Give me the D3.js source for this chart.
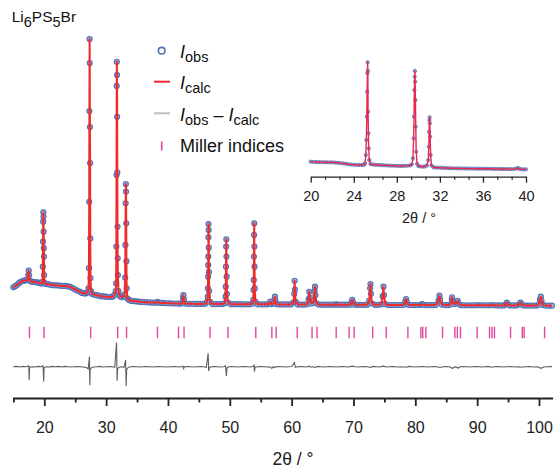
<!DOCTYPE html>
<html><head><meta charset="utf-8">
<script src="https://cdn.jsdelivr.net/npm/d3@7"></script>
<style>body{margin:0;background:#fff}svg{display:block;font-family:"Liberation Sans",Arial,sans-serif}</style>
</head><body><svg id="c" width="555" height="470"></svg>
<script>
// ---------- DATA ----------
const mainObs = [[15.0,84],[15.3,88],[15.6,93],[15.9,99],[16.2,104],[16.5,107],[16.8,109],[17.1,110],[17.3,113],[17.42,130],[17.48,145],[17.55,128],[17.65,108],[17.9,105],[18.2,104],[18.5,103],[18.8,102],[19.1,101],[19.4,99],[19.6,98],[19.72,104],[19.76,160],[19.79,252],[19.82,326],[19.85,360],[19.87,344],[19.89,289],[19.92,228],[19.95,197],[19.98,129],[20.05,100],[20.3,96],[20.6,95],[20.9,94],[21.3,92],[21.7,91],[22.1,91],[22.5,90],[22.9,89],[23.3,89],[23.7,88],[24.1,86],[24.5,82],[24.9,77],[25.3,72],[25.7,68],[26.1,63],[26.5,61],[26.8,62],[27.0,66],[27.15,80],[27.22,155],[27.26,399],[27.29,734],[27.33,1000],[27.35,911],[27.38,675],[27.41,542],[27.44,264],[27.47,118],[27.55,70],[27.7,60],[28.0,57],[28.4,55],[28.8,53],[29.2,51],[29.6,50],[30.0,49],[30.4,48],[30.8,48],[31.1,50],[31.35,56],[31.55,70],[31.62,98],[31.65,234],[31.68,498],[31.71,827],[31.73,916],[31.76,867],[31.78,713],[31.81,507],[31.84,307],[31.87,191],[31.9,129],[32.0,70],[32.2,52],[32.5,47],[32.8,50],[33.0,58],[33.08,120],[33.12,240],[33.16,394],[33.19,465],[33.22,437],[33.25,320],[33.28,180],[33.32,80],[33.45,42],[33.7,37],[34.0,34],[34.4,33],[34.8,32],[35.2,31],[35.6,30],[36.0,29.5],[36.5,29],[37.0,28],[37.5,27.5],[38.0,27],[38.3,30],[38.6,27],[39.0,26],[39.5,25.5],[40.0,25],[40.5,24.5],[41.0,24],[41.5,24],[42.0,23.5],[42.35,26],[42.45,45],[42.5,55],[42.57,40],[42.7,25],[43.1,23],[43.6,23],[44.1,23],[44.6,22.5],[45.1,22.5],[45.6,22.5],[46.0,23],[46.3,30],[46.42,49],[46.45,80],[46.48,123],[46.5,166],[46.52,197],[46.54,268],[46.56,317],[46.58,295],[46.6,230],[46.63,140],[46.67,70],[46.8,30],[47.2,22],[47.7,22],[48.2,22],[48.7,22],[49.1,24],[49.3,49],[49.35,86],[49.38,160],[49.41,234],[49.44,261],[49.46,197],[49.49,123],[49.53,60],[49.7,27],[50.2,21.5],[50.7,21.5],[51.2,21.5],[51.7,21.5],[52.2,21],[52.7,21],[53.2,21],[53.6,23],[53.8,37],[53.84,74],[53.87,111],[53.9,197],[53.92,277],[53.95,320],[53.97,234],[54.0,160],[54.04,80],[54.15,30],[54.5,21],[55.0,21],[55.5,21],[56.0,21],[56.4,23],[56.55,31],[56.7,22],[57.1,24],[57.25,40],[57.3,49],[57.36,36],[57.5,22],[57.9,20.5],[58.4,20.5],[58.9,20.5],[59.4,20.5],[59.9,21],[60.3,28],[60.42,60],[60.48,108],[60.54,75],[60.65,30],[61.0,20.5],[61.5,20],[62.0,20],[62.5,21],[62.75,40],[62.85,67],[62.93,45],[63.2,24],[63.6,35],[63.72,70],[63.78,86],[63.85,55],[64.0,25],[64.4,20],[64.9,19.5],[65.4,19.5],[65.9,19.5],[66.4,19.5],[66.9,20],[67.2,21],[67.5,19.5],[68.0,19.5],[68.5,19.5],[69.0,19.5],[69.5,20],[69.7,30],[69.8,37],[69.9,28],[70.2,19.5],[70.7,19],[71.2,19],[71.7,19],[72.2,19.5],[72.55,35],[72.7,80],[72.75,96],[72.82,60],[73.0,24],[73.5,19],[74.0,19],[74.5,21],[74.72,50],[74.85,86],[74.93,55],[75.15,22],[75.6,18.5],[76.1,18.5],[76.6,18.5],[77.1,18.5],[77.6,18.5],[78.1,19],[78.4,32],[78.5,40.6],[78.6,30],[78.9,19],[79.4,18.5],[79.9,18],[80.4,18],[80.9,19],[81.1,22],[81.3,19],[81.8,18],[82.3,18],[82.8,18],[83.3,18.5],[83.75,35],[83.9,53],[84.0,38],[84.3,20],[84.8,18],[85.3,18],[85.7,21],[85.9,40],[85.95,47],[86.05,32],[86.4,22],[86.75,28],[86.85,34],[86.95,25],[87.3,18],[87.8,17.5],[88.3,17.5],[88.8,17.5],[89.3,17.5],[89.8,17.5],[90.3,18],[90.8,17.5],[91.3,17.5],[91.8,17.5],[92.3,18],[92.8,17.5],[93.3,17],[93.8,17],[94.3,17],[94.65,22],[94.8,27],[94.95,21],[95.3,17],[95.8,17],[96.3,17],[96.8,21],[97.0,27],[97.15,21],[97.5,17],[98.0,16.5],[98.5,16.5],[99.0,16.5],[99.5,16.5],[99.9,18],[100.15,38],[100.3,49],[100.4,35],[100.7,18],[101.1,16.5],[101.6,16],[102.1,16]];

const mainDiff = [[15.0,0],[15.5,1],[16.0,-1],[16.5,1],[17.0,0],[17.4,2],[17.5,3],[17.55,-50],[17.62,-2],[18.0,0],[18.5,-1],[19.0,1],[19.5,0],[19.8,4],[19.9,-55],[19.97,-3],[20.3,0],[20.8,-1],[21.3,1],[21.8,0],[22.3,1],[22.8,-1],[23.3,1],[23.8,0],[24.3,-1],[24.8,0],[25.3,1],[25.8,0],[26.3,-1],[26.8,-3],[27.1,-8],[27.3,37],[27.36,-68],[27.42,-12],[27.6,-4],[28.0,-1],[28.5,0],[29.0,1],[29.5,-1],[30.0,0],[30.5,1],[31.0,0],[31.4,-2],[31.68,89],[31.78,-52],[31.85,-8],[32.1,-2],[32.5,0],[32.9,-2],[33.15,25],[33.24,-71],[33.32,-10],[33.6,-2],[34.0,0],[34.5,1],[35.0,0],[35.5,-1],[36.0,0],[36.5,1],[37.0,0],[37.5,-1],[38.0,0],[38.5,1],[39.0,0],[39.5,0],[40.0,-1],[40.5,0],[41.0,1],[41.5,0],[42.0,-1],[42.45,2],[42.52,-7],[42.7,0],[43.2,1],[43.7,0],[44.2,-1],[44.7,0],[45.2,1],[45.7,0],[46.2,-2],[46.5,49],[46.58,-16],[46.7,-3],[47.0,0],[47.5,1],[48.0,0],[48.5,-1],[49.0,0],[49.3,3],[49.45,-34],[49.55,-4],[49.8,0],[50.3,1],[50.8,0],[51.3,-1],[51.8,0],[52.3,1],[52.8,0],[53.3,-1],[53.8,2],[53.92,6],[53.98,-18],[54.1,-2],[54.5,0],[55.0,1],[55.5,0],[56.0,-1],[56.5,0],[56.8,-6],[57.0,0],[57.3,-3],[57.5,0],[58.0,1],[58.5,0],[59.0,-1],[59.5,0],[60.0,1],[60.45,15],[60.6,-2],[61.0,0],[61.5,1],[62.0,0],[62.5,-1],[62.85,3],[63.0,-2],[63.5,0],[63.8,-3],[64.2,1],[64.7,0],[65.2,-1],[65.7,0],[66.2,1],[66.7,0],[67.2,-1],[67.7,0],[68.2,1],[68.7,0],[69.2,-1],[69.8,2],[70.3,0],[70.8,-1],[71.3,0],[71.8,1],[72.3,0],[72.75,-3],[73.2,1],[73.7,0],[74.2,-1],[74.8,2],[75.3,-1],[75.8,0],[76.3,1],[76.8,0],[77.3,-1],[77.8,0],[78.5,-2],[79.0,1],[79.5,0],[80.0,-1],[80.5,0],[81.0,1],[81.5,0],[82.0,-1],[82.5,0],[83.0,1],[83.5,0],[84.0,-3],[84.5,0],[85.0,1],[85.5,0],[86.0,-6],[86.5,0],[86.9,-5],[87.3,0],[87.8,1],[88.3,0],[88.8,-1],[89.3,0],[89.8,1],[90.3,0],[90.8,-1],[91.3,0],[91.8,1],[92.3,-2],[92.8,0],[93.3,1],[93.8,0],[94.3,-1],[94.8,0],[95.3,1],[95.8,0],[96.3,-1],[96.8,0],[97.3,-2],[97.8,0],[98.3,1],[98.8,0],[99.3,-1],[99.8,0],[100.3,-6],[100.8,-1],[101.3,0],[101.8,1],[102.1,0]];

const millerPos = [17.6,19.95,27.5,31.87,33.3,38.3,41.7,42.6,46.8,49.7,54.2,56.8,57.5,60.9,63.3,64.1,67.2,69.3,70.1,73.1,75.3,78.8,80.9,81.2,81.7,84.4,86.4,86.8,87.3,90.0,92.0,92.4,92.8,95.4,97.3,97.6,100.9];

const insetObs = [[20.0,94],[20.25,92],[20.5,91],[20.75,90],[21.0,90],[21.25,89],[21.5,89],[21.75,88],[22.0,88],[22.25,86],[22.5,84],[22.75,81],[23.0,79],[23.25,75],[23.5,71],[23.75,68],[24.0,66],[24.25,65],[24.5,64],[24.75,64],[24.95,66],[25.05,80],[25.12,155],[25.17,292],[25.21,504],[25.24,732],[25.27,900],[25.29,1000],[25.31,921],[25.33,550],[25.36,353],[25.39,216],[25.44,110],[25.55,72],[25.75,68],[26.0,66],[26.25,64],[26.5,63],[26.75,62],[27.0,60],[27.25,59],[27.5,58],[27.75,57],[28.0,56],[28.25,55],[28.5,55],[28.75,56],[29.0,57],[29.25,60],[29.4,70],[29.5,125],[29.56,307],[29.6,504],[29.63,748],[29.66,869],[29.68,921],[29.7,823],[29.73,656],[29.76,413],[29.8,185],[29.88,75],[30.0,55],[30.2,50],[30.4,49],[30.6,50],[30.8,60],[30.92,109],[30.97,231],[31.0,367],[31.03,474],[31.05,499],[31.07,444],[31.1,322],[31.14,155],[31.22,60],[31.4,44],[31.6,40],[31.85,39],[32.1,38],[32.35,37],[32.6,36],[32.85,35],[33.1,34],[33.35,34],[33.6,33],[33.85,33],[34.1,32],[34.35,32],[34.6,31],[34.85,31],[35.1,31],[35.35,30],[35.6,30],[35.85,30],[36.1,30],[36.35,29],[36.6,29],[36.85,29],[37.1,28],[37.35,28],[37.6,28],[37.85,27],[38.1,27],[38.35,27],[38.6,26],[38.85,27],[39.1,31],[39.25,36],[39.4,28],[39.6,25],[39.8,24],[40.0,24]];

const mainTickValues = [20,30,40,50,60,70,80,90,100];
const mainMinorTicks = [15,25,35,45,55,65,75,85,95];
const insetTickValues = [20,24,28,32,36,40];
const insetMinorTicks = [21.333,22.667,25.333,26.667,29.333,30.667,33.333,34.667,37.333,38.667];

// ---------- DRAWING ----------
const svg = d3.select("#c");
const RED = "#ef2b2b", BLUE = "#5272b6", PINK = "#e2469c";

const x = d3.scaleLinear().domain([14.9,102.2]).range([12.76,552.6]);
const y = d3.scaleLinear().domain([0,1000]).range([310,39]);
const yd = d3.scaleLinear().domain([0,100]).range([366.7,339.6]);

// observed circles
svg.append("g").selectAll("circle").data(mainObs).join("circle")
  .attr("cx", d=>x(d[0])).attr("cy", d=>y(d[1])).attr("r",2.5)
  .attr("fill","#9fb2dc").attr("stroke",BLUE).attr("stroke-width",1.2);
// calculated line
svg.append("path").datum(mainObs)
  .attr("d", d3.line().x(d=>x(d[0])).y(d=>y(d[1])))
  .attr("fill","none").attr("stroke",RED).attr("stroke-width",2).attr("stroke-linejoin","round");
// difference
svg.append("path").datum(mainDiff)
  .attr("d", d3.line().x(d=>x(d[0])).y(d=>yd(d[1])))
  .attr("fill","none").attr("stroke","#5e5e5e").attr("stroke-width",1.1);
// Miller ticks
svg.append("g").selectAll("line").data(millerPos).join("line")
  .attr("x1",d=>x(d)).attr("x2",d=>x(d)).attr("y1",326.7).attr("y2",338.3)
  .attr("stroke",PINK).attr("stroke-width",1.4);

// main axis
const gx = svg.append("g").attr("transform","translate(0,398)")
  .call(d3.axisBottom(x).tickValues(mainTickValues).tickSize(8).tickSizeOuter(0));
gx.select(".domain").attr("stroke","#222").attr("stroke-width",2);
gx.selectAll(".tick line").attr("stroke","#222").attr("stroke-width",1.8);
gx.selectAll(".tick text").attr("font-family","Liberation Sans, Arial, sans-serif")
  .attr("font-size",16).attr("fill","#222").attr("y",23.6);
const gxm = svg.append("g").attr("transform","translate(0,398)")
  .call(d3.axisBottom(x).tickValues(mainMinorTicks).tickSize(4.5).tickSizeOuter(0).tickFormat(""));
gxm.select(".domain").remove();
gxm.selectAll(".tick line").attr("stroke","#222").attr("stroke-width",1.8);
svg.append("text").attr("x",293).attr("y",465).attr("text-anchor","middle")
  .attr("font-size",17.5).attr("fill","#222").text("2θ / °");

// ---------- INSET ----------
const xi = d3.scaleLinear().domain([20,40]).range([310.7,526]);
const yi = d3.scaleLinear().domain([0,1000]).range([172,62.3]);
svg.append("g").selectAll("circle").data(insetObs).join("circle")
  .attr("cx", d=>xi(d[0])).attr("cy", d=>yi(d[1])).attr("r",1.6)
  .attr("fill","#9fb2dc").attr("stroke",BLUE).attr("stroke-width",0.9);
svg.append("path").datum(insetObs)
  .attr("d", d3.line().x(d=>xi(d[0])).y(d=>yi(d[1])))
  .attr("fill","none").attr("stroke","#e8284f").attr("stroke-width",1.4).attr("stroke-linejoin","round");
const gi = svg.append("g").attr("transform","translate(0,176.7)")
  .call(d3.axisBottom(xi).tickValues(insetTickValues).tickSize(6).tickSizeOuter(0));
gi.select(".domain").attr("stroke","#222").attr("stroke-width",1.3);
gi.selectAll(".tick line").attr("stroke","#222").attr("stroke-width",1.3);
gi.selectAll(".tick text").attr("font-family","Liberation Sans, Arial, sans-serif")
  .attr("font-size",14.5).attr("fill","#222").attr("y",14.5);
const gim = svg.append("g").attr("transform","translate(0,176.7)")
  .call(d3.axisBottom(xi).tickValues(insetMinorTicks).tickSize(3).tickSizeOuter(0).tickFormat(""));
gim.select(".domain").remove();
gim.selectAll(".tick line").attr("stroke","#222").attr("stroke-width",1.2);
svg.append("text").attr("x",419).attr("y",222.5).attr("text-anchor","middle")
  .attr("font-size",14.5).attr("fill","#222").text("2θ / °");

// ---------- LEGEND ----------
const lg = svg.append("g").attr("font-size",18).attr("fill","#111");
lg.append("circle").attr("cx",161.7).attr("cy",50.7).attr("r",3.3)
  .attr("fill","#fff").attr("stroke",BLUE).attr("stroke-width",1.6);
lg.append("line").attr("x1",154).attr("x2",170).attr("y1",81.7).attr("y2",81.7)
  .attr("stroke",RED).attr("stroke-width",2);
lg.append("line").attr("x1",154).attr("x2",170).attr("y1",113.3).attr("y2",113.3)
  .attr("stroke","#bdbdbd").attr("stroke-width",2);
lg.append("line").attr("x1",161.7).attr("x2",161.7).attr("y1",141.5).attr("y2",150.5)
  .attr("stroke",PINK).attr("stroke-width",1.6);
function sub(t, parts){
  parts.forEach(p=>{
    const s = t.append("tspan").text(p.t);
    if(p.i) s.attr("font-style","italic");
    if(p.s) s.attr("font-size",14.5);
    if(p.dy) s.attr("dy",p.dy);
  });
}
sub(lg.append("text").attr("x",180).attr("y",58), [{t:"I",i:1},{t:"obs",s:1,dy:4}]);
sub(lg.append("text").attr("x",180).attr("y",89), [{t:"I",i:1},{t:"calc",s:1,dy:4}]);
sub(lg.append("text").attr("x",180).attr("y",120.5), [{t:"I",i:1},{t:"obs",s:1,dy:4},{t:" – ",dy:-4},{t:"I",i:1},{t:"calc",s:1,dy:4}]);
lg.append("text").attr("x",180).attr("y",152).text("Miller indices");

// ---------- TITLE ----------
const tt = svg.append("text").attr("x",11.7).attr("y",22).attr("font-size",15.5).attr("fill","#111");
[["Li",0],["6",1],["PS",0],["5",1],["Br",0]].forEach(([t,s],i)=>{
  const sp = tt.append("tspan").text(t);
  if(s){ sp.attr("font-size",14.5).attr("dy",5); }
  else if(i>0){ sp.attr("dy",-5); }
});
</script></body></html>
